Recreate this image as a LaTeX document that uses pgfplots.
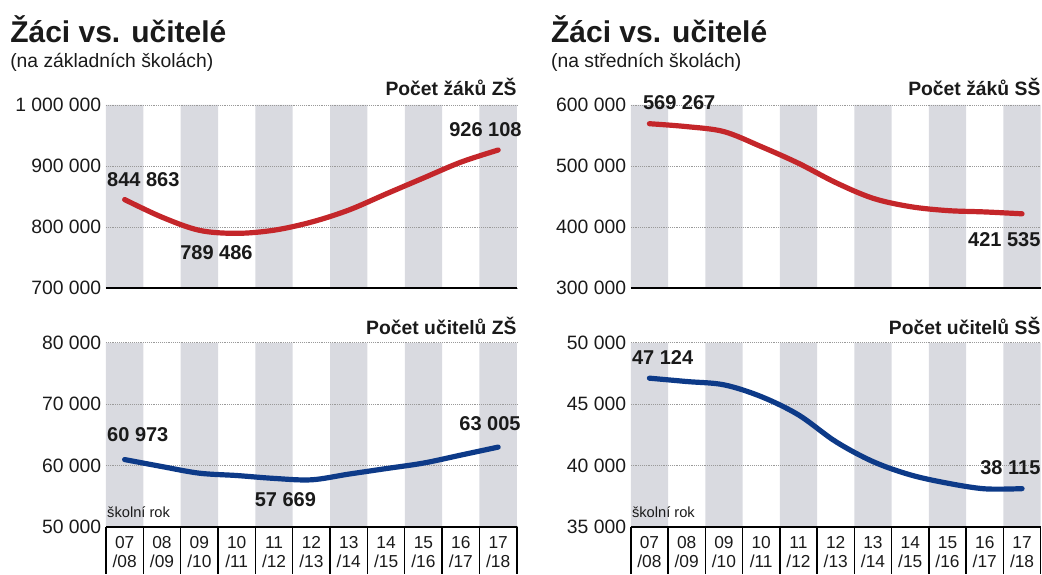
\documentclass[border=0pt]{standalone}
\usepackage{fontspec}
\setmainfont{Liberation Sans}
\usepackage{pgfplots}
\pgfplotsset{compat=1.18}
\definecolor{Stripe}{HTML}{D9DAE0}
\definecolor{LineRed}{HTML}{C4262A}
\definecolor{LineBlue}{HTML}{0D3A88}
\definecolor{Grid}{HTML}{9A9A9A}
\definecolor{Ink}{HTML}{1A1A1A}
\newcommand\vlab{\fontsize{15}{18}\selectfont\bfseries}
\newcommand\plab{\fontsize{14.5}{17}\selectfont\bfseries}
\pgfplotsset{
  panel/.style={
    scale only axis,set layers,
    xmin=-0.5,xmax=10.5,
    axis lines=left,axis line style={-},
    y axis line style={draw=none},
    x axis line style={draw=black,line width=2pt},
    xtick=\empty,major tick length=0pt,
    scaled y ticks=false,
    ymajorgrids,grid style={Grid,densely dotted,line width=0.6pt},
    yticklabel style={font=\fontsize{14.5}{17}\selectfont,text=Ink},
  },
  left panel/.style={panel,width=308.25pt},
  right panel/.style={panel,width=307.5pt},
  top panel/.style={height=137.25pt},
  bottom panel/.style={height=138pt,
    xtick={0,...,10},
    xticklabels={07\\/08,08\\/09,09\\/10,10\\/11,11\\/12,12\\/13,13\\/14,14\\/15,15\\/16,16\\/17,17\\/18},
    xticklabel style={align=center,text=Ink,font=\fontsize{13}{13.75}\selectfont,yshift=-4pt}},
  stripes/.style={on layer=axis background,fill=Stripe,draw=none},
  series/.style={smooth,tension=0.55,line width=3.9pt,line cap=round,line join=round},
}
\begin{document}
\begin{tikzpicture}
\path (0,0) rectangle (781.5pt,-430.5pt);

% ZS pupils
\begin{axis}[left panel,top panel,at={(79.5pt,-216pt)},anchor=south west,
  ymin=700000,ymax=1000000,
  ytick={700000,800000,900000,1000000},
  yticklabels={700~000,800~000,900~000,1~000~000}]
  \addplot[stripes] coordinates {
    (-0.5,700000) (-0.5,1000000) (0.5,1000000) (0.5,700000)
    (1.5,700000) (1.5,1000000) (2.5,1000000) (2.5,700000)
    (3.5,700000) (3.5,1000000) (4.5,1000000) (4.5,700000)
    (5.5,700000) (5.5,1000000) (6.5,1000000) (6.5,700000)
    (7.5,700000) (7.5,1000000) (8.5,1000000) (8.5,700000)
    (9.5,700000) (9.5,1000000) (10.5,1000000) (10.5,700000)} --cycle;
  \addplot[series,LineRed] coordinates {
    (0,844863) (1,816015) (2,794459) (3,789486) (4,794642) (5,807950)
    (6,827654) (7,854137) (8,880251) (9,906188) (10,926108)};
\end{axis}

% ZS teachers
\begin{axis}[left panel,bottom panel,at={(79.5pt,-395.25pt)},anchor=south west,
  ymin=50000,ymax=80000,
  ytick={50000,60000,70000,80000},
  yticklabels={50~000,60~000,70~000,80~000}]
  \addplot[stripes] coordinates {
    (-0.5,50000) (-0.5,80000) (0.5,80000) (0.5,50000)
    (1.5,50000) (1.5,80000) (2.5,80000) (2.5,50000)
    (3.5,50000) (3.5,80000) (4.5,80000) (4.5,50000)
    (5.5,50000) (5.5,80000) (6.5,80000) (6.5,50000)
    (7.5,50000) (7.5,80000) (8.5,80000) (8.5,50000)
    (9.5,50000) (9.5,80000) (10.5,80000) (10.5,50000)} --cycle;
  \addplot[series,LineBlue] coordinates {
    (0,60973) (1,59830) (2,58750) (3,58370) (4,57900) (5,57669)
    (6,58600) (7,59500) (8,60400) (9,61700) (10,63005)};
\end{axis}

% SS pupils
\begin{axis}[right panel,top panel,at={(473.25pt,-216pt)},anchor=south west,
  ymin=300000,ymax=600000,
  ytick={300000,400000,500000,600000},
  yticklabels={300~000,400~000,500~000,600~000}]
  \addplot[stripes] coordinates {
    (-0.5,300000) (-0.5,600000) (0.5,600000) (0.5,300000)
    (1.5,300000) (1.5,600000) (2.5,600000) (2.5,300000)
    (3.5,300000) (3.5,600000) (4.5,600000) (4.5,300000)
    (5.5,300000) (5.5,600000) (6.5,600000) (6.5,300000)
    (7.5,300000) (7.5,600000) (8.5,600000) (8.5,300000)
    (9.5,300000) (9.5,600000) (10.5,600000) (10.5,300000)} --cycle;
  \addplot[series,LineRed] coordinates {
    (0,569267) (1,564500) (2,556300) (3,531700) (4,504400) (5,472700)
    (6,447000) (7,433300) (8,426800) (9,424600) (10,421535)};
\end{axis}

% SS teachers
\begin{axis}[right panel,bottom panel,at={(473.25pt,-395.25pt)},anchor=south west,
  ymin=35000,ymax=50000,
  ytick={35000,40000,45000,50000},
  yticklabels={35~000,40~000,45~000,50~000}]
  \addplot[stripes] coordinates {
    (-0.5,35000) (-0.5,50000) (0.5,50000) (0.5,35000)
    (1.5,35000) (1.5,50000) (2.5,50000) (2.5,35000)
    (3.5,35000) (3.5,50000) (4.5,50000) (4.5,35000)
    (5.5,35000) (5.5,50000) (6.5,50000) (6.5,35000)
    (7.5,35000) (7.5,50000) (8.5,50000) (8.5,35000)
    (9.5,35000) (9.5,50000) (10.5,50000) (10.5,35000)} --cycle;
  \addplot[series,LineBlue] coordinates {
    (0,47124) (1,46850) (2,46580) (3,45620) (4,44130) (5,41950)
    (6,40320) (7,39240) (8,38560) (9,38100) (10,38115)};
\end{axis}

\begin{scope}[x=0.75pt,y=-0.75pt,every node/.style={inner sep=0pt,text=Ink}]
  % titles
  \node[anchor=base west,font=\fontsize{22.5}{26}\selectfont\bfseries] at (10,43) {Žáci vs. učitelé};
  \node[anchor=base west,font=\fontsize{14.5}{17}\selectfont] at (10,68) {(na základních školách)};
  \node[anchor=base west,font=\fontsize{22.5}{26}\selectfont\bfseries] at (551,43) {Žáci vs. učitelé};
  \node[anchor=base west,font=\fontsize{14.5}{17}\selectfont] at (551,68) {(na středních školách)};
  % panel labels
  \node[anchor=base east,font=\plab] at (517,96) {Počet žáků ZŠ};
  \node[anchor=base east,font=\plab] at (517,335) {Počet učitelů ZŠ};
  \node[anchor=base east,font=\plab] at (1041,96) {Počet žáků SŠ};
  \node[anchor=base east,font=\plab] at (1041,335) {Počet učitelů SŠ};
  % value labels
  \node[anchor=base west,font=\vlab] at (107,187) {844~863};
  \node[anchor=base,font=\vlab] at (216.5,260) {789~486};
  \node[anchor=base east,font=\vlab] at (522,137) {926~108};
  \node[anchor=base west,font=\vlab] at (107,441.7) {60~973};
  \node[anchor=base,font=\vlab] at (285.5,506.7) {57~669};
  \node[anchor=base east,font=\vlab] at (521,430.7) {63~005};
  \node[anchor=base west,font=\vlab] at (643,110) {569~267};
  \node[anchor=base east,font=\vlab] at (1041,247) {421~535};
  \node[anchor=base west,font=\vlab] at (632,365) {47~124};
  \node[anchor=base east,font=\vlab] at (1041,475) {38~115};
  % school year note
  \node[anchor=base west,font=\fontsize{11}{13}\selectfont] at (107,518) {školní rok};
  \node[anchor=base west,font=\fontsize{11}{13}\selectfont] at (632,518) {školní rok};
  % table cell separators
  \foreach \i in {0,...,11} {
    \draw[line width=1.1pt] ({106+\i*37.36},527) -- ({106+\i*37.36},574);
    \draw[line width=1.1pt] ({631+\i*37.27},527) -- ({631+\i*37.27},574);
  }
\end{scope}
\end{tikzpicture}
\end{document}
